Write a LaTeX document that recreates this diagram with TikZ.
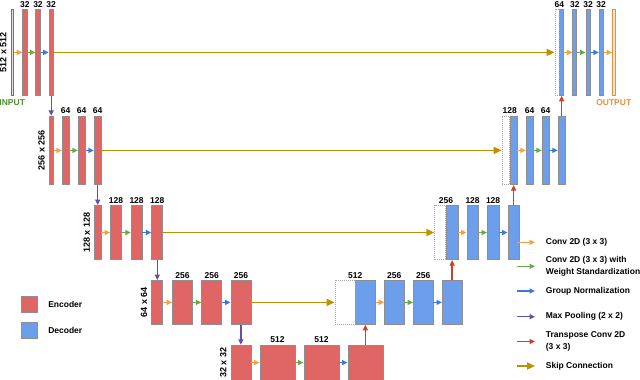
\documentclass[tikz,border=0pt]{standalone}
\usepackage{fontspec}
\setmainfont{Liberation Sans}
\usetikzlibrary{positioning,arrows.meta}
\definecolor{encred}{HTML}{E06666}
\definecolor{decblue}{HTML}{6D9EEB}
\definecolor{barline}{HTML}{8E8E8E}
\definecolor{convor}{HTML}{F2A144}
\definecolor{wsgreen}{HTML}{6AA84F}
\definecolor{gnblue}{HTML}{3C78D8}
\definecolor{poolpurple}{HTML}{674EA7}
\definecolor{upred}{HTML}{CC4125}
\definecolor{skipgold}{HTML}{BF9000}
\definecolor{ingreen}{HTML}{4E8F2E}
\definecolor{outorange}{HTML}{E69138}
\tikzset{
  blk/.style={draw=barline, line width=0.7pt, inner sep=0pt},
  enc/.style={blk, fill=encred},
  dec/.style={blk, fill=decblue},
  lv1/.style={minimum width=#1, minimum height=86pt}, lv1/.default=4.5pt,
  lv2/.style={minimum width=#1, minimum height=68.6pt}, lv2/.default=7pt,
  lv3/.style={minimum width=#1, minimum height=54.3pt}, lv3/.default=11pt,
  lv4/.style={minimum width=#1, minimum height=44pt}, lv4/.default=20pt,
  lv5/.style={minimum width=#1, minimum height=35pt}, lv5/.default=35pt,
  cat/.style={draw=gray!70, dash pattern=on 1pt off 1pt, line width=0.7pt, inner sep=0pt},
  num/.style={font=\fontsize{8.5}{10}\selectfont\bfseries, inner sep=0pt},
  dim/.style={font=\fontsize{9}{10}\selectfont\bfseries, inner sep=0pt, rotate=90, anchor=south},
  leg/.style={font=\fontsize{8.5}{11.7}\selectfont\bfseries, inner sep=0pt, align=left, anchor=west},
  tip/.style={-{Triangle[length=5.5pt,width=5pt]}, line width=1.6pt},
  conv/.style={tip, convor},
  wsconv/.style={tip, wsgreen},
  gnorm/.style={tip, gnblue},
  pool/.style={tip, poolpurple, line width=1.4pt},
  upconv/.style={tip, upred, line width=1.4pt},
  skip/.style={-{Triangle[length=8pt,width=7pt]}, skipgold, line width=1.7pt}
}
\begin{document}
\begin{tikzpicture}[x=1pt, y=-1pt]
    \path[use as bounding box, fill=white] (0,0) rectangle (640,380);
    % encoder
    \node[blk, lv1=2.5pt, draw=ingreen, fill=gray!25] (in) at (12.2,52.4) {};
    \node[enc, lv1, right=8.4pt of in] (e1a) {};
    \node[enc, lv1, right=8pt of e1a] (e1b) {};
    \node[enc, lv1, right=8pt of e1b] (e1c) {};
    \node[enc, lv2=4pt, below=20pt of e1c] (e2a) {};
    \node[enc, lv2, right=8.3pt of e2a] (e2b) {};
    \node[enc, lv2, right=8.3pt of e2b] (e2c) {};
    \node[enc, lv2, right=8.3pt of e2c] (e2d) {};
    \node[enc, lv3=6.6pt, below=20pt of e2d] (e3a) {};
    \node[enc, lv3, right=8.7pt of e3a] (e3b) {};
    \node[enc, lv3, right=9pt of e3b] (e3c) {};
    \node[enc, lv3, right=9pt of e3c] (e3d) {};
    \node[enc, lv4=11pt, below=20pt of e3d] (e4a) {};
    \node[enc, lv4, right=9pt of e4a] (e4b) {};
    \node[enc, lv4, right=8.5pt of e4b] (e4c) {};
    \node[enc, lv4, right=8.5pt of e4c] (e4d) {};
    \node[enc, lv5=20pt, below=20pt of e4d] (e5a) {};
    \node[enc, lv5, right=8.3pt of e5a] (e5b) {};
    \node[enc, lv5, right=8.3pt of e5b] (e5c) {};
    \node[enc, lv5, right=8.3pt of e5c] (e5d) {};
    % decoder
    \node[dec, lv4=19.5pt, above=20pt of e5d] (d4a) {};
    \node[dec, lv4=19.5pt, right=8.7pt of d4a] (d4b) {};
    \node[dec, lv4=19.5pt, right=8.7pt of d4b] (d4c) {};
    \node[dec, lv4=19.5pt, right=8.7pt of d4c] (d4d) {};
    \node[dec, lv3=11.5pt, above=20pt of d4d] (d3a) {};
    \node[dec, lv3=11.5pt, right=8.3pt of d3a] (d3b) {};
    \node[dec, lv3=11.5pt, right=8.3pt of d3b] (d3c) {};
    \node[dec, lv3=11.5pt, right=8.3pt of d3c] (d3d) {};
    \node[dec, lv2, above=20pt of d3d] (d2a) {};
    \node[dec, lv2, right=8.3pt of d2a] (d2b) {};
    \node[dec, lv2, right=8.3pt of d2b] (d2c) {};
    \node[dec, lv2, right=8.3pt of d2c] (d2d) {};
    \node[dec, lv1=4pt, above=20pt of d2d] (d1a) {};
    \node[dec, lv1=4pt, right=8.5pt of d1a] (d1b) {};
    \node[dec, lv1=4pt, right=8.5pt of d1b] (d1c) {};
    \node[dec, lv1=4pt, right=8.5pt of d1c] (d1d) {};
    \node[blk, lv1=2.5pt, draw=outorange, fill=outorange!25, right=8.6pt of d1d] (out) {};
    \node[cat, lv1=4pt, left=0pt of d1a] (k1) {};
    \node[cat, lv2=7.4pt, left=0pt of d2a] (k2) {};
    \node[cat, lv3=11pt, left=0pt of d3a] (k3) {};
    \node[cat, lv4=20pt, left=0pt of d4a] (k4) {};
    % arrows
    \foreach \a/\b/\st in {in/e1a/conv, e1a/e1b/wsconv, e1b/e1c/gnorm,
        e2a/e2b/conv, e2b/e2c/wsconv, e2c/e2d/gnorm,
        e3a/e3b/conv, e3b/e3c/wsconv, e3c/e3d/gnorm,
        e4a/e4b/conv, e4b/e4c/wsconv, e4c/e4d/gnorm,
        e5a/e5b/conv, e5b/e5c/wsconv, e5c/e5d/gnorm,
        d4a/d4b/conv, d4b/d4c/wsconv, d4c/d4d/gnorm,
        d3a/d3b/conv, d3b/d3c/wsconv, d3c/d3d/gnorm,
        d2a/d2b/conv, d2b/d2c/wsconv, d2c/d2d/gnorm,
        d1a/d1b/conv, d1b/d1c/wsconv, d1c/d1d/gnorm, d1d/out/conv,
        e1c/e2a/pool, e2d/e3a/pool, e3d/e4a/pool, e4d/e5a/pool,
        e5d/d4a/upconv, d4d/d3a/upconv, d3d/d2a/upconv, d2d/d1a/upconv,
        e1c/k1/skip, e2d/k2/skip, e3d/k3/skip, e4d/k4/skip}
        \draw[\st] (\a) -- (\b);
    % labels
    \foreach \b/\t in {e1a/32, e1b/32, e1c/32, e2b/64, e2c/64, e2d/64,
        e3b/128, e3c/128, e3d/128, e4b/256, e4c/256, e4d/256, e5b/512, e5c/512,
        d4b/256, d4c/256, d3b/128, d3c/128, d2b/64, d2c/64, d1b/32, d1c/32, d1d/32}
        \node[num, above=1.5pt of \b] (t\b) {\t};
    \foreach \b/\t in {d4a/512, d3a/256, d2a/128, d1a/64}
        \node[num, above=1.5pt of \b.north west] (t\b) {\t};
    \node[dim] (s1) at ([xshift=-4pt]in.west) {512 x 512};
    \node[dim] (s2) at ([xshift=-4pt]e2a.west) {256 x 256};
    \node[dim] (s3) at ([xshift=-4pt]e3a.west) {128 x 128};
    \node[dim] (s4) at ([xshift=-4pt]e4a.west) {64 x 64};
    \node[dim] (s5) at ([xshift=-4pt]e5a.west) {32 x 32};
    \node[num, text=ingreen, below=4pt of in] (intx) {INPUT};
    \node[num, text=outorange, below=4pt of out] (outtx) {OUTPUT};
    % legend
    \node[enc, minimum size=16pt] (kenc) at (29.7,304.7) {};
    \node[dec, minimum size=16pt, below=9pt of kenc] (kdec) {};
    \node[leg, right=10pt of kenc] (tenc) {Encoder};
    \node[leg, right=10pt of kdec] (tdec) {Decoder};
    \foreach \y/\st/\t [count=\i] in {242.3/conv/{Conv 2D (3 x 3)},
        266.3/wsconv/{Conv 2D (3 x 3) with\\Weight Standardization},
        291/gnorm/{Group Normalization}, 316.7/pool/{Max Pooling (2 x 2)},
        341.5/upconv/{Transpose Conv 2D\\(3 x 3)}, 366/skip/{Skip Connection}} {
        \node[leg] (leg\i) at (545.7,\y) {\t};
        \coordinate (from\i) at (516.7,\y);
        \draw[\st, shorten >=10.7pt] (from\i) -- (leg\i);
    }
\end{tikzpicture}
\end{document}
